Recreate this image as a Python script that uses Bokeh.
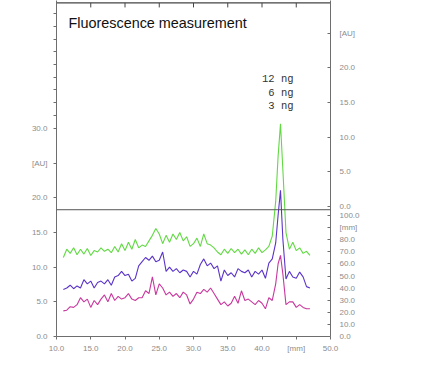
from math import pi
from bokeh.plotting import figure
from bokeh.models import LinearAxis, FixedTicker, Span, Label
from bokeh.embed import file_html
from bokeh.resources import INLINE

# ---------------- data ----------------
x_mm = [11.0, 11.5, 12.0, 12.5, 13.0, 13.5, 14.0, 14.5, 15.0, 15.5,
        16.0, 16.5, 17.0, 17.5, 18.0, 18.5, 19.0, 19.5, 20.0, 20.5,
        21.0, 21.5, 22.0, 22.5, 23.0, 23.5, 24.0, 24.5, 25.0, 25.5,
        26.0, 26.5, 27.0, 27.5, 28.0, 28.5, 29.0, 29.5, 30.0, 30.5,
        31.0, 31.5, 32.0, 32.5, 33.0, 33.5, 34.0, 34.5, 35.0, 35.5,
        36.0, 36.5, 37.0, 37.5, 38.0, 38.5, 39.0, 39.5, 40.0, 40.5,
        41.0, 41.5, 42.0, 42.35, 42.7, 43.05,
        43.5, 44.0, 44.5, 45.0, 45.5, 46.0, 46.5, 47.0]

green_12ng = [11.4, 12.6, 12.0, 12.8, 11.8, 12.6, 11.9, 12.7, 11.7, 12.4,
              12.2, 12.8, 12.3, 12.6, 12.1, 13.0, 12.2, 13.4, 12.4, 13.6,
              12.6, 14.0, 12.8, 13.2, 13.0, 13.8, 14.6, 15.6, 14.8, 13.4,
              14.6, 13.6, 14.8, 14.0, 15.0, 13.8, 14.4, 13.0, 13.4, 14.2,
              13.0, 14.8, 13.4, 13.2, 12.8, 12.2, 11.8, 12.6, 12.0, 12.7,
              12.1, 12.6, 11.9, 12.5, 11.8, 12.6, 12.0, 12.8, 12.1, 12.5,
              13.0, 14.5, 19.5, 26.0, 30.7, 24.0,
              15.0, 12.6, 13.6, 12.4, 12.8, 12.0, 12.3, 11.7]

blue_6ng = [6.8, 7.0, 7.4, 6.9, 7.3, 7.0, 8.2, 7.6, 8.0, 7.0,
            7.8, 8.0, 7.6, 8.2, 7.4, 8.6, 8.8, 9.4, 8.8, 9.0,
            8.0, 8.4, 10.2, 10.8, 11.4, 11.0, 11.6, 10.8, 11.0, 12.2,
            9.4, 10.0, 9.4, 9.8, 9.2, 9.6, 9.4, 8.6, 9.4, 9.0,
            10.4, 11.2, 10.2, 10.6, 9.8, 10.2, 8.0, 9.6, 8.8, 9.2,
            8.6, 9.8, 9.4, 9.2, 9.6, 8.6, 9.4, 9.0, 9.6, 8.4,
            10.6, 11.2, 13.5, 17.5, 21.1, 14.0,
            8.3, 9.4, 8.6, 8.4, 9.3, 8.6, 7.2, 7.0]

magenta_3ng = [3.7, 3.8, 4.3, 4.2, 4.6, 5.6, 5.0, 5.4, 4.2, 5.2,
               4.6, 5.4, 6.0, 5.0, 6.2, 5.2, 5.8, 5.4, 5.6, 6.2,
               5.4, 5.2, 5.6, 5.6, 6.6, 6.2, 8.6, 6.0, 7.6, 7.0,
               6.0, 6.4, 5.8, 6.2, 5.6, 6.4, 6.0, 4.7, 5.4, 6.4,
               6.2, 6.8, 6.4, 7.0, 6.2, 5.4, 4.6, 5.0, 4.4, 4.8,
               5.8, 4.8, 6.6, 5.2, 5.4, 5.0, 4.6, 5.2, 4.8, 4.0,
               5.6, 5.2, 7.6, 10.5, 11.7, 9.0,
               4.6, 5.0, 5.0, 4.2, 4.6, 4.2, 4.0, 4.0]

series_names = ["12 ng", "6 ng", "3 ng"]
series_colors = ["#62d944", "#5a34c8", "#c8389e"]

left_ticks = [0, 5, 10, 15, 20, 25, 30]
left_labels = ["0.0", "5.0", "10.0", "15.0", "20.0", "[AU]", "30.0"]
left_upper_ticks = [31.9, 33.8, 35.6, 37.4, 39.3, 41.1, 42.9, 44.7, 46.6]

bottom_ticks = [10, 15, 20, 25, 30, 35, 40, 45, 50]
bottom_labels = ["10.0", "15.0", "20.0", "25.0", "30.0", "35.0", "40.0", "[mm]", "50.0"]
top_ticks = [15, 20, 25, 30, 35, 40, 45]

right_au_ticks = [0, 5, 10, 15, 20, 25]
right_au_labels = ["0.0", "5.0", "10.0", "15.0", "20.0", "[AU]"]
right_mm_ticks = [0, 10, 20, 30, 40, 50, 60, 70, 80, 90, 100]
right_mm_labels = ["0.0", "10.0", "20.0", "30.0", "40.0", "50.0", "60.0",
                   "70.0", "80.0", "[mm]", "100.0"]

baseline_level = 18.3      # horizontal reference line (left AU units)
right_au_zero = 18.76      # right AU scale zero, in left AU units
right_mm_scale = 0.1746    # left AU units per mm on the right mm scale
y_top = 48.5

# ---------------- figure ----------------
p = figure(width=428, height=376, x_range=(10, 50), y_range=(0, y_top),
           output_backend="svg", toolbar_location=None,
           x_axis_location=None, y_axis_location=None,
           min_border_left=56, min_border_right=98,
           min_border_top=0, min_border_bottom=40)
p.grid.visible = False
p.outline_line_color = None
p.background_fill_color = "white"
p.border_fill_color = "white"

AX = "#6e6e6e"
LBL = "#8c8c8c"


def style(ax):
    ax.axis_line_color = AX
    ax.major_tick_line_color = AX
    ax.minor_tick_line_color = None
    ax.major_label_text_font = "Liberation Sans"
    ax.major_label_text_font_size = "8px"
    ax.major_label_text_color = LBL


# left axis
lt = left_ticks + left_upper_ticks
lo = {t: l for t, l in zip(left_ticks, left_labels)}
lo.update({t: "" for t in left_upper_ticks})
left_ax = LinearAxis(ticker=FixedTicker(ticks=lt), major_label_overrides=lo)
style(left_ax)
left_ax.major_tick_in = 0
left_ax.major_tick_out = 3
left_ax.major_label_standoff = 6
p.add_layout(left_ax, "left")

# bottom axis
bottom_ax = LinearAxis(ticker=FixedTicker(ticks=bottom_ticks),
                       major_label_overrides={t: l for t, l in zip(bottom_ticks, bottom_labels)})
style(bottom_ax)
bottom_ax.major_tick_in = 0
bottom_ax.major_tick_out = 3
bottom_ax.major_label_standoff = 4
p.add_layout(bottom_ax, "below")

# right axis: AU scale (upper) and mm scale (lower)
rt = [right_au_zero + v for v in right_au_ticks] + [m * right_mm_scale for m in right_mm_ticks]
ro = {right_au_zero + v: l for v, l in zip(right_au_ticks, right_au_labels)}
ro.update({m * right_mm_scale: l for m, l in zip(right_mm_ticks, right_mm_labels)})
right_ax = LinearAxis(ticker=FixedTicker(ticks=rt), major_label_overrides=ro)
style(right_ax)
right_ax.major_tick_in = 3
right_ax.major_tick_out = 0
right_ax.major_label_standoff = 9
p.add_layout(right_ax, "right")

# top border line with inward ticks (drawn inside the frame)
top_line_y = y_top - 0.35
p.line(x=[10, 50], y=[top_line_y, top_line_y], line_color="#444444", line_width=1.3)
p.segment(x0=top_ticks, y0=[top_line_y] * len(top_ticks),
          x1=top_ticks, y1=[top_line_y - 0.65] * len(top_ticks),
          line_color="#444444", line_width=1)

# horizontal reference line
p.add_layout(Span(location=baseline_level, dimension="width",
                  line_color="#555555", line_width=1))

# traces
for ys, c in zip([green_12ng, blue_6ng, magenta_3ng], series_colors):
    p.line(x_mm, ys, line_color=c, line_width=1.1)

# texts
p.add_layout(Label(x=11.75, y=45.2, text="Fluorescence measurement",
                   text_font="Liberation Sans", text_font_size="14.4px",
                   text_color="#111111", text_baseline="middle", text_align="left"))

for i, name in enumerate(series_names):
    p.add_layout(Label(x=44.6, y=37.1 - i * 1.95, text=name,
                       text_font="Liberation Mono", text_font_size="10.5px",
                       text_color="#333333", text_baseline="middle", text_align="right"))

p.add_layout(Label(x=4.38, y=22.4, text="Arbitrary Units [AU]", angle=pi / 2,
                   text_font="Liberation Sans", text_font_size="12.7px",
                   text_color="#111111", text_baseline="middle", text_align="center"))

p.add_layout(Label(x=50.73, y=-4.18, text="Migration distance [mm]",
                   text_font="Liberation Sans", text_font_size="12.7px",
                   text_color="#111111", text_baseline="middle", text_align="right"))

open("out.html", "w").write(file_html(p, INLINE))
